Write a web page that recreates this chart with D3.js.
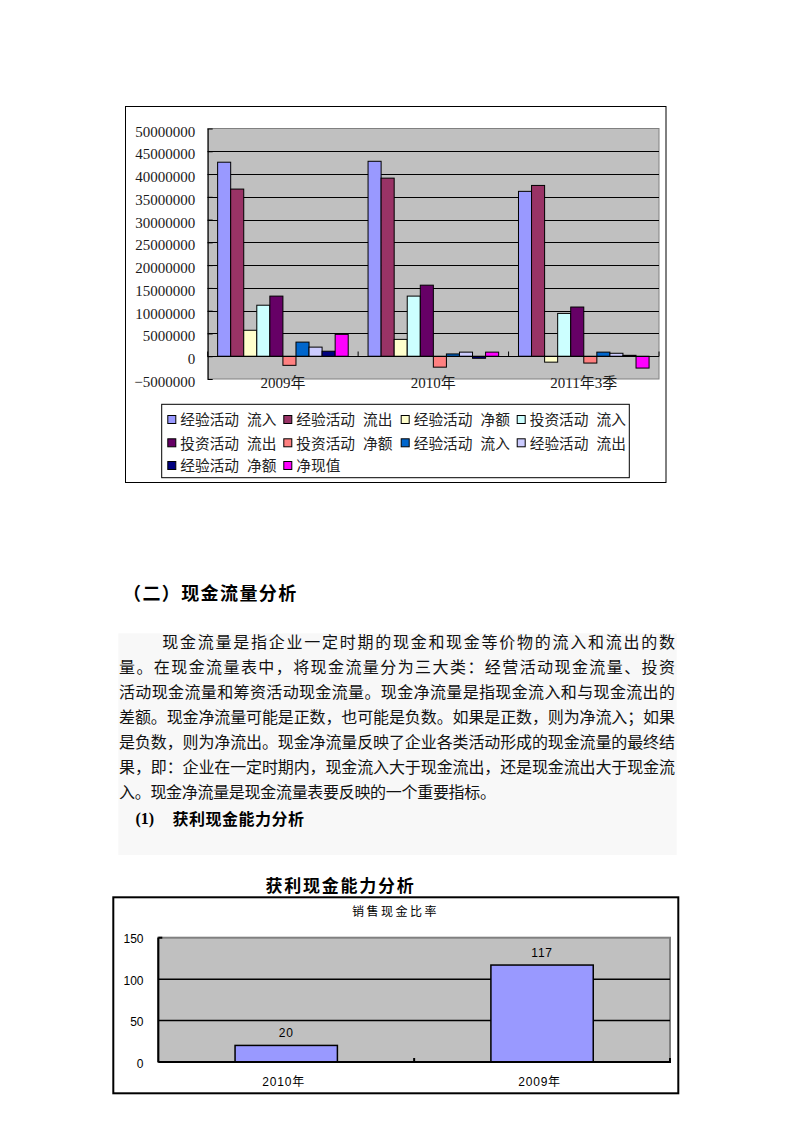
<!DOCTYPE html>
<html><head><meta charset="utf-8">
<script src="https://cdn.jsdelivr.net/npm/d3@7"></script>
<style>body{margin:0;background:#fff} svg{display:block}</style>
</head><body>
<svg id="page" width="794" height="1123"></svg>
<script>
// ---------- data: cash flow chart ----------
const categories = ["2009年", "2010年", "2011年3季"];
const seriesNames = ["经验活动 流入", "经验活动 流出", "经验活动 净额", "投资活动 流入", "投资活动 流出",
                     "投资活动 净额", "经验活动 流入", "经验活动 流出", "经验活动 净额", "净现值"];
const seriesColors = ["#9999FF", "#993366", "#FFFFCC", "#CCFFFF", "#660066",
                      "#FF8080", "#0066CC", "#CCCCFF", "#000080", "#FF00FF"];
const values2009 = [42600000, 36700000, 5700000, 11200000, 13200000, -2000000, 3100000, 2000000, 1100000, 4800000];
const values2010 = [42800000, 39100000, 3700000, 13200000, 15600000, -2400000, 500000, 900000, -450000, 900000];
const values2011Q3 = [36200000, 37500000, -1300000, 9400000, 10800000, -1500000, 900000, 650000, 200000, -2600000];
const yTickValues = [-5000000, 0, 5000000, 10000000, 15000000, 20000000, 25000000, 30000000, 35000000, 40000000, 45000000, 50000000];

// ---------- data: ratio chart ----------
const ratioCategories = ["2010年", "2009年"];
const ratioValues = [20, 117];
const ratioTicks = [0, 50, 100, 150];

// ---------- text ----------
const sectionTitle = "（二）现金流量分析";
const paragraphLines = [
  "现金流量是指企业一定时期的现金和现金等价物的流入和流出的数",
  "量。在现金流量表中，将现金流量分为三大类：经营活动现金流量、投资",
  "活动现金流量和筹资活动现金流量。现金净流量是指现金流入和与现金流出的",
  "差额。现金净流量可能是正数，也可能是负数。如果是正数，则为净流入；如果",
  "是负数，则为净流出。现金净流量反映了企业各类活动形成的现金流量的最终结",
  "果，即：企业在一定时期内，现金流入大于现金流出，还是现金流出大于现金流",
  "入。现金净流量是现金流量表要反映的一个重要指标。"
];
const subHeadNum = "(1)";
const subHeadText = "获利现金能力分析";
const chart2Title = "获利现金能力分析";
const chart2Subtitle = "销售现金比率";

const seriesValues = [values2009, values2010, values2011Q3];
const svg = d3.select("#page");
const CJK = "'Noto Sans CJK SC', 'Noto Sans', sans-serif";
const SERIF = "'Liberation Serif', 'Noto Sans CJK SC', serif";

// ================= Chart 1 =================
svg.append("rect").attr("x", 125.5).attr("y", 106.5).attr("width", 540.5).attr("height", 376)
  .attr("fill", "#fff").attr("stroke", "#000").attr("stroke-width", 1);

const p1 = {l: 207.7, r: 659, t: 128.5, b: 379};
const y1 = d3.scaleLinear().domain([-5000000, 50000000]).range([p1.b, p1.t]);
const x0 = d3.scaleBand().domain(categories).range([p1.l, p1.r]).paddingInner(0).paddingOuter(0);
const x1 = d3.scaleBand().domain(d3.range(seriesNames.length)).range([0, x0.bandwidth()])
  .paddingInner(0).paddingOuter(0.76);

svg.append("rect").attr("x", p1.l).attr("y", p1.t).attr("width", p1.r - p1.l).attr("height", p1.b - p1.t)
  .attr("fill", "#C0C0C0").attr("stroke", "#808080").attr("stroke-width", 1);

// gridlines
svg.append("g").selectAll("line").data(yTickValues.filter(v => v > -5000000 && v < 50000000)).join("line")
  .attr("x1", p1.l).attr("x2", p1.r)
  .attr("y1", d => Math.round(y1(d)) + 0.5).attr("y2", d => Math.round(y1(d)) + 0.5)
  .attr("stroke", "#000").attr("stroke-width", 1);

// bars
const groups = svg.append("g").selectAll("g").data(categories).join("g")
  .attr("transform", d => `translate(${x0(d)},0)`);
groups.selectAll("rect").data((d, ci) => seriesValues[ci].map((v, si) => ({v, si}))).join("rect")
  .attr("x", d => x1(d.si)).attr("width", x1.bandwidth())
  .attr("y", d => y1(Math.max(0, d.v))).attr("height", d => Math.abs(y1(d.v) - y1(0)))
  .attr("fill", d => seriesColors[d.si]).attr("stroke", "#000").attr("stroke-width", 1);

// category axis at zero
const zeroY = Math.round(y1(0)) + 0.5;
svg.append("line").attr("x1", p1.l).attr("x2", p1.r).attr("y1", zeroY).attr("y2", zeroY)
  .attr("stroke", "#000").attr("stroke-width", 1);
const catTicks = categories.map(c => x0(c)).concat([p1.r]);
svg.append("g").selectAll("line").data(catTicks).join("line")
  .attr("x1", d => d).attr("x2", d => d).attr("y1", zeroY).attr("y2", zeroY - 5)
  .attr("stroke", "#000");
svg.append("g").selectAll("text").data(categories).join("text")
  .attr("x", d => x0(d) + x0.bandwidth() / 2).attr("y", 387.5)
  .attr("text-anchor", "middle").attr("font-family", SERIF).attr("font-size", 15).attr("fill", "#1a1a1a")
  .text(d => d);

// value axis
const yAxis = d3.axisLeft(y1).tickValues(yTickValues).tickFormat(d3.format("d"))
  .tickSizeInner(-5).tickSizeOuter(0).tickPadding(12.5);
const ya = svg.append("g").attr("transform", `translate(${p1.l},0)`).call(yAxis);
ya.select(".domain").attr("stroke", "#000");
ya.selectAll(".tick line").attr("stroke", "#000");
ya.selectAll("text").attr("font-family", SERIF).attr("font-size", 15).attr("fill", "#1a1a1a").attr("dy", "0.5em");

// legend
svg.append("rect").attr("x", 161.7).attr("y", 404.3).attr("width", 467.6).attr("height", 73.4)
  .attr("fill", "#fff").attr("stroke", "#000").attr("stroke-width", 1);
const legendCols = [167.3, 283.3, 400.7, 516.7];
const legendRows = [420, 443.3, 466];
const li = svg.append("g").selectAll("g").data(seriesNames).join("g")
  .attr("transform", (d, i) => `translate(${legendCols[i % 4]},${legendRows[Math.floor(i / 4)]})`);
li.append("rect").attr("x", 0.5).attr("y", -4.5).attr("width", 8).attr("height", 8)
  .attr("fill", (d, i) => seriesColors[i]).attr("stroke", "#000").attr("stroke-width", 1);
li.each(function(d) {
  const parts = d.split(" ");
  const t = d3.select(this).append("text").attr("y", 5.3).attr("font-family", CJK).attr("font-size", 14.7)
    .attr("fill", "#222");
  t.append("tspan").attr("x", 13).text(parts[0]);
  if (parts[1]) t.append("tspan").attr("x", 13 + parts[0].length * 14.7 + 8).text(parts[1]);
});

// ================= Text section =================
svg.append("text").attr("x", 123).attr("y", 599.5).attr("font-family", CJK).attr("font-weight", "bold")
  .attr("font-size", 18).attr("letter-spacing", 1.4).attr("fill", "#000").text(sectionTitle);

svg.append("rect").attr("x", 118.3).attr("y", 633.3).attr("width", 558.4).attr("height", 221.7)
  .attr("fill", "#F8F8F8");

const lineStarts = [162.3, 119, 119, 119, 119, 119, 119];
const lineEnds = [675, 675, 675, 675, 675, 675, 496];
svg.append("g").selectAll("text").data(paragraphLines).join("text")
  .attr("x", (d, i) => lineStarts[i]).attr("y", (d, i) => 647.7 + 25 * i)
  .attr("textLength", (d, i) => lineEnds[i] - lineStarts[i]).attr("lengthAdjust", "spacing")
  .attr("font-family", CJK).attr("font-size", 16).attr("fill", "#111").text(d => d);

svg.append("text").attr("x", 135.5).attr("y", 824).attr("font-family", SERIF).attr("font-weight", "bold")
  .attr("font-size", 16).attr("fill", "#000").text(subHeadNum);
svg.append("text").attr("x", 172.5).attr("y", 824.5).attr("font-family", CJK).attr("font-weight", "bold")
  .attr("font-size", 16).attr("letter-spacing", 0.5).attr("fill", "#000").text(subHeadText);

// ================= Chart 2 =================
svg.append("text").attr("x", 265.5).attr("y", 891.5).attr("font-family", CJK).attr("font-weight", "bold")
  .attr("font-size", 17).attr("letter-spacing", 1.75).attr("fill", "#000").text(chart2Title);

svg.append("rect").attr("x", 113.3).attr("y", 897.3).attr("width", 565).attr("height", 196)
  .attr("fill", "#fff").attr("stroke", "#000").attr("stroke-width", 2);
svg.append("text").attr("x", 352).attr("y", 916).attr("font-family", CJK)
  .attr("font-size", 12).attr("letter-spacing", 2.5).attr("fill", "#000").text(chart2Subtitle);

const p2 = {l: 158.3, r: 670, t: 937.7, b: 1062};
const y2 = d3.scaleLinear().domain([0, 150]).range([p2.b, p2.t]);
const x2 = d3.scaleBand().domain(ratioCategories).range([p2.l, p2.r]).paddingInner(0.6).paddingOuter(0.3);
const x2b = d3.scaleBand().domain(ratioCategories).range([p2.l, p2.r]);

svg.append("rect").attr("x", p2.l).attr("y", p2.t).attr("width", p2.r - p2.l).attr("height", p2.b - p2.t)
  .attr("fill", "#C0C0C0").attr("stroke", "#808080").attr("stroke-width", 2);
svg.append("g").selectAll("line").data(ratioTicks.filter(v => v > 0 && v < 150)).join("line")
  .attr("x1", p2.l).attr("x2", p2.r).attr("y1", d => y2(d)).attr("y2", d => y2(d))
  .attr("stroke", "#000").attr("stroke-width", 1.5);

svg.append("g").selectAll("rect").data(ratioValues).join("rect")
  .attr("x", (d, i) => x2(ratioCategories[i])).attr("width", x2.bandwidth())
  .attr("y", d => y2(d)).attr("height", d => y2(0) - y2(d))
  .attr("fill", "#9999FF").attr("stroke", "#000").attr("stroke-width", 1.5);

// axes
svg.append("line").attr("x1", p2.l).attr("x2", p2.l).attr("y1", p2.t).attr("y2", p2.b)
  .attr("stroke", "#000").attr("stroke-width", 2);
svg.append("line").attr("x1", p2.l).attr("x2", p2.r + 1).attr("y1", p2.b).attr("y2", p2.b)
  .attr("stroke", "#000").attr("stroke-width", 2);
svg.append("line").attr("x1", p2.l).attr("x2", p2.l + 4).attr("y1", p2.t).attr("y2", p2.t)
  .attr("stroke", "#000").attr("stroke-width", 2);
svg.append("g").selectAll("line").data([x2b(ratioCategories[1]), p2.r]).join("line")
  .attr("x1", d => d).attr("x2", d => d).attr("y1", p2.b).attr("y2", p2.b - 4)
  .attr("stroke", "#000").attr("stroke-width", 2);

svg.append("g").selectAll("text").data(ratioTicks).join("text")
  .attr("x", 143.5).attr("y", d => y2(d) + 5.5).attr("text-anchor", "end")
  .attr("font-family", "'Liberation Sans', sans-serif").attr("font-size", 12).attr("fill", "#000")
  .text(d => d);
svg.append("g").selectAll("text").data(ratioValues).join("text")
  .attr("x", (d, i) => x2(ratioCategories[i]) + x2.bandwidth() / 2).attr("y", d => y2(d) - 8.5)
  .attr("text-anchor", "middle").attr("font-family", "'Liberation Sans', sans-serif")
  .attr("font-size", 12).attr("letter-spacing", 0.8).attr("fill", "#000").text(d => d);
svg.append("g").selectAll("text").data(ratioCategories).join("text")
  .attr("x", d => x2b(d) + x2b.bandwidth() / 2 - 2.5).attr("y", 1086)
  .attr("text-anchor", "middle").attr("font-family", "'Liberation Sans', 'Noto Sans CJK SC', sans-serif")
  .attr("font-size", 12).attr("letter-spacing", 0.8).attr("fill", "#000").text(d => d);
</script>
</body></html>
